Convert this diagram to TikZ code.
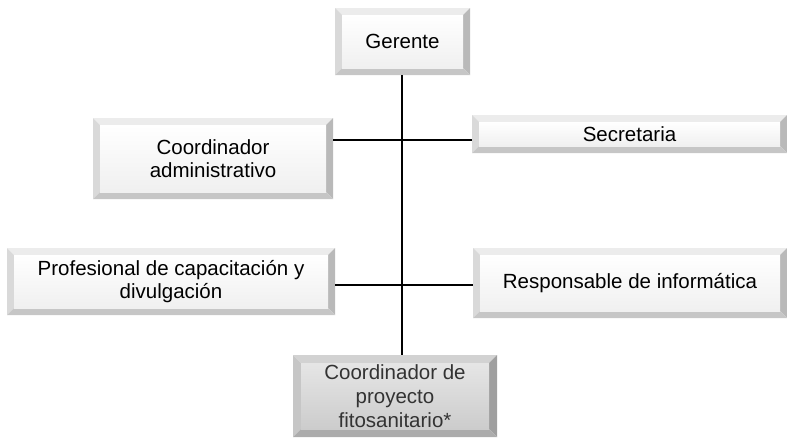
\documentclass[tikz,border=0pt]{standalone}
\usepackage{fontspec}
\setmainfont{Liberation Sans}
\usetikzlibrary{calc}
\tikzset{
  bevelbox/.style={
    rectangle, inner sep=2pt, align=center, font=\fontsize{20.5}{23}\selectfont,
    path picture={
      \def\bw{7pt}
      \coordinate (nw) at (path picture bounding box.north west);
      \coordinate (ne) at (path picture bounding box.north east);
      \coordinate (sw) at (path picture bounding box.south west);
      \coordinate (se) at (path picture bounding box.south east);
      \coordinate (inw) at ($(nw)+(\bw,-\bw)$);
      \coordinate (ine) at ($(ne)+(-\bw,-\bw)$);
      \coordinate (isw) at ($(sw)+(\bw,\bw)$);
      \coordinate (ise) at ($(se)+(-\bw,\bw)$);
      \fill[gray!15] (nw) -- (ne) -- (ine) -- (inw) -- cycle;
      \fill[gray!30] (nw) -- (inw) -- (isw) -- (sw) -- cycle;
      \fill[gray!55] (ne) -- (se) -- (ise) -- (ine) -- cycle;
      \fill[gray!45] (sw) -- (isw) -- (ise) -- (se) -- cycle;
      \shade[top color=white, bottom color=gray!12] (inw) rectangle (ise);
    }
  },
  darkbox/.style={
    rectangle, inner sep=2pt, align=center, font=\fontsize{20.5}{24}\selectfont,
    text=black!80,
    path picture={
      \def\bw{8pt}
      \coordinate (nw) at (path picture bounding box.north west);
      \coordinate (ne) at (path picture bounding box.north east);
      \coordinate (sw) at (path picture bounding box.south west);
      \coordinate (se) at (path picture bounding box.south east);
      \coordinate (inw) at ($(nw)+(\bw,-\bw)$);
      \coordinate (ine) at ($(ne)+(-\bw,-\bw)$);
      \coordinate (isw) at ($(sw)+(\bw,\bw)$);
      \coordinate (ise) at ($(se)+(-\bw,\bw)$);
      \fill[gray!35] (nw) -- (ne) -- (ine) -- (inw) -- cycle;
      \fill[gray!45] (nw) -- (inw) -- (isw) -- (sw) -- cycle;
      \fill[gray!75] (ne) -- (se) -- (ise) -- (ine) -- cycle;
      \fill[gray!65] (sw) -- (isw) -- (ise) -- (se) -- cycle;
      \shade[top color=gray!20, bottom color=gray!40] (inw) rectangle (ise);
    }
  },
  link/.style={line width=1.3pt, black}
}
\begin{document}
\begin{tikzpicture}[x=1pt, y=-1pt]
\useasboundingbox (0,0) rectangle (787,439);
\node[bevelbox, minimum width=135pt, minimum height=67pt] (ger) at (402.5,41.5) {Gerente};
\node[bevelbox, minimum width=240pt, minimum height=81pt] (adm) at (213,158.5) {Coordinador\\administrativo};
\node[bevelbox, minimum width=315pt, minimum height=38pt] (sec) at (629.5,134) {Secretaria};
\node[bevelbox, minimum width=328pt, minimum height=67pt] (prof) at (171,281.5) {Profesional de capacitación y\\divulgación};
\node[bevelbox, minimum width=314pt, minimum height=70pt] (resp) at (630,283) {Responsable de informática};
\node[darkbox, minimum width=204pt, minimum height=82pt] (proj) at (395,396) {Coordinador de\\proyecto\\fitosanitario*};
\coordinate (trunk) at (402,0);
\draw[link] (ger.south -| trunk) -- (proj.north -| trunk);
\draw[link] (adm.east |- {0,140}) -- (sec.west |- {0,140});
\draw[link] (prof.east |- {0,285}) -- (resp.west |- {0,285});
\end{tikzpicture}
\end{document}
